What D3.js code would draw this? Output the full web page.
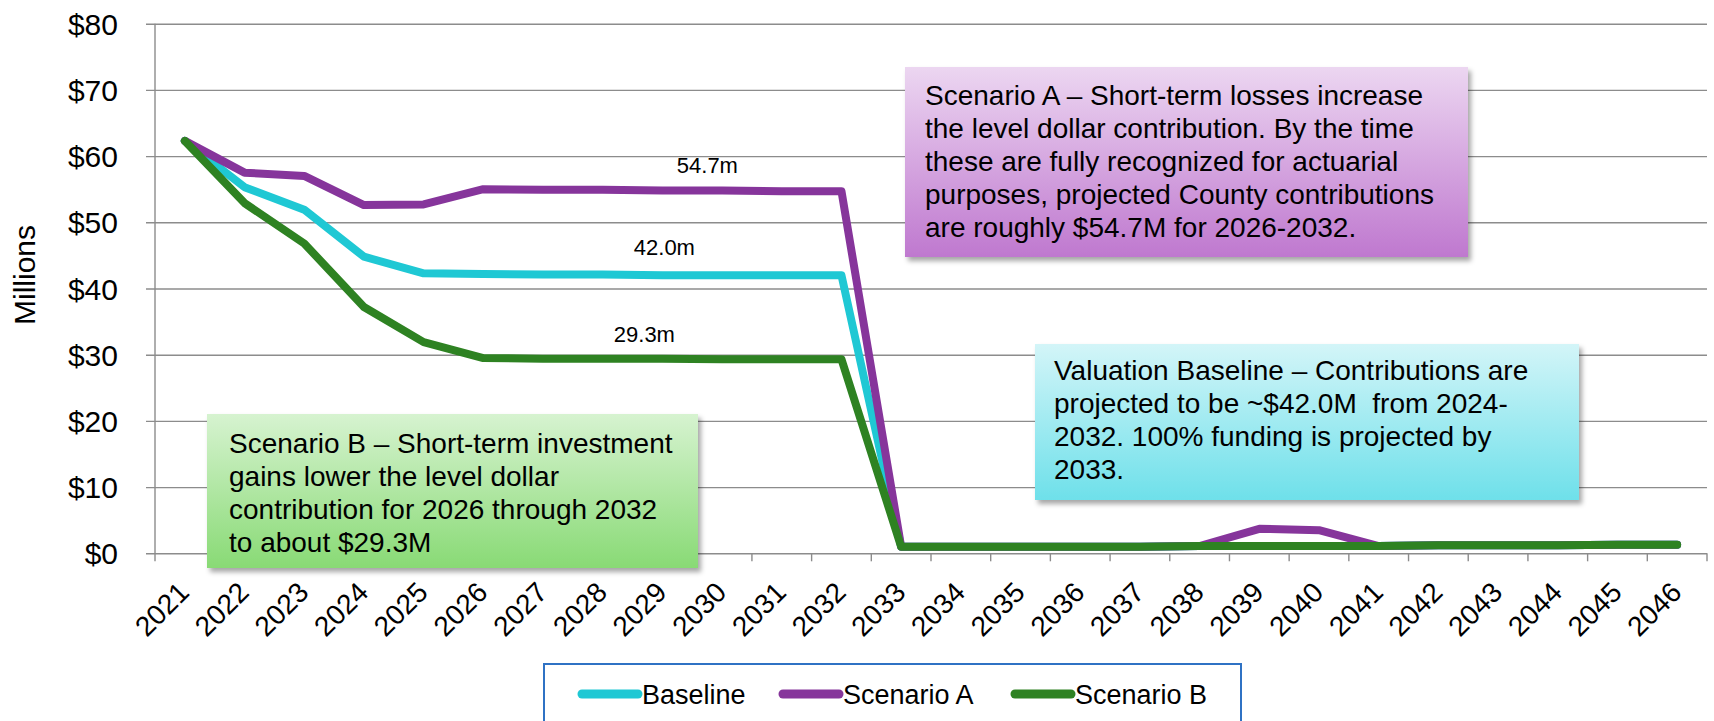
<!DOCTYPE html>
<html>
<head>
<meta charset="utf-8">
<script src="https://d3js.org/d3.v7.min.js"></script>
<style>
body {
  margin: 0;
  background: #fff;
  font-family: "Liberation Sans", Arial, Helvetica, sans-serif;
}
</style>
</head>
<body>
<div id="my_dataviz"></div>

<script>

// ---- data ----
var years = ["2021","2022","2023","2024","2025","2026","2027","2028","2029","2030","2031","2032","2033",
             "2034","2035","2036","2037","2038","2039","2040","2041","2042","2043","2044","2045","2046"];

var baseline  = [62.3, 55.3, 51.9, 44.8, 42.3, 42.2, 42.1, 42.1, 42.0, 42.0, 42.0, 42.0, 1.0,
                 1.0, 1.0, 1.0, 1.0, 1.1, 1.1, 1.1, 1.1, 1.2, 1.2, 1.2, 1.3, 1.3];
var scenarioA = [62.3, 57.5, 57.0, 52.6, 52.7, 55.0, 54.9, 54.9, 54.8, 54.8, 54.7, 54.7, 1.0,
                 1.0, 1.0, 1.0, 1.0, 1.1, 3.7, 3.5, 1.1, 1.2, 1.2, 1.2, 1.3, 1.3];
var scenarioB = [62.3, 52.9, 46.8, 37.2, 31.9, 29.5, 29.4, 29.4, 29.4, 29.3, 29.3, 29.3, 1.0,
                 1.0, 1.0, 1.0, 1.0, 1.1, 1.1, 1.1, 1.1, 1.2, 1.2, 1.2, 1.3, 1.3];

var seriesNames = ["Baseline", "Scenario A", "Scenario B"];
var yTicks = [0, 10, 20, 30, 40, 50, 60, 70, 80];

var valueLabels = ["42.0m", "54.7m", "29.3m"];

var noteA = ["Scenario A \u2013 Short-term losses increase",
             "the level dollar contribution. By the time",
             "these are fully recognized for actuarial",
             "purposes, projected County contributions",
             "are roughly $54.7M for 2026-2032."];
var noteBase = ["Valuation Baseline \u2013 Contributions are",
                "projected to be ~$42.0M\u00a0 from 2024-",
                "2032. 100% funding is projected by",
                "2033."];
var noteB = ["Scenario B \u2013 Short-term investment",
             "gains lower the level dollar",
             "contribution for 2026 through 2032",
             "to about $29.3M"];

// ---- layout ----
var W = 1714, H = 721;
var plot = {left: 155, right: 1707, top: 23.7, bottom: 553.3};
var colors = ["#1fc8d4", "#86359b", "#2e8222"];
var gridColor = "#8c8c8c";

var svg = d3.select("#my_dataviz")
  .append("svg")
    .attr("width", W)
    .attr("height", H)
    .style("display", "block");

var defs = svg.append("defs");

// drop shadow for the note boxes
var f = defs.append("filter").attr("id", "shadow")
  .attr("x", "-5%").attr("y", "-5%").attr("width", "115%").attr("height", "120%");
f.append("feDropShadow")
  .attr("dx", 3).attr("dy", 4).attr("stdDeviation", 2.5)
  .attr("flood-color", "#000").attr("flood-opacity", 0.35);

function grad(id, top, bottom) {
  var g = defs.append("linearGradient").attr("id", id)
    .attr("x1", 0).attr("y1", 0).attr("x2", 0).attr("y2", 1);
  g.append("stop").attr("offset", "0%").attr("stop-color", top);
  g.append("stop").attr("offset", "100%").attr("stop-color", bottom);
}
grad("gradA", "#ecd6f1", "#bf78cf");
grad("gradBase", "#d3f5f8", "#6ee0ea");
grad("gradB", "#d6f3d0", "#89da75");

// scales
var x = d3.scaleBand()
  .domain(years)
  .range([plot.left, plot.right])
  .padding(0);
var y = d3.scaleLinear()
  .domain([0, 80])
  .range([plot.bottom, plot.top]);

function cx(i) { return x(years[i]) + x.bandwidth() / 2; }

// gridlines + y axis
svg.append("g")
  .attr("transform", "translate(" + plot.left + ",0)")
  .call(d3.axisLeft(y).tickValues(yTicks)
    .tickSize(-(plot.right - plot.left))
    .tickFormat(function(d) { return "$" + d; }))
  .call(function(g) {
    g.select(".domain").remove();
    g.selectAll(".tick line").attr("stroke", gridColor).attr("stroke-width", 1.4)
      .attr("x1", -9);
    g.selectAll(".tick text")
      .attr("x", -37)
      .attr("dy", "0.35em")
      .style("font-family", "'Liberation Sans', Arial, sans-serif")
      .style("font-size", "30px")
      .attr("fill", "#000");
  });

// y axis line
svg.append("line")
  .attr("x1", plot.left).attr("x2", plot.left)
  .attr("y1", plot.top).attr("y2", plot.bottom)
  .attr("stroke", gridColor).attr("stroke-width", 1.4);

// x axis with ticks at the category edges
var xTickPos = years.map(function(d) { return x(d); }).concat([plot.right]);
svg.append("g").selectAll("line")
  .data(xTickPos)
  .enter().append("line")
    .attr("x1", function(d) { return d; })
    .attr("x2", function(d) { return d; })
    .attr("y1", plot.bottom)
    .attr("y2", plot.bottom + 8)
    .attr("stroke", gridColor).attr("stroke-width", 1.4);

svg.append("g").selectAll("text")
  .data(years)
  .enter().append("text")
    .attr("transform", function(d, i) {
      return "translate(" + (cx(i) + 6) + "," + 594 + ") rotate(-45)";
    })
    .style("text-anchor", "end")
    .style("font-size", "28px")
    .text(function(d) { return d; });

// y axis title
svg.append("text")
  .attr("transform", "translate(35," + 275 + ") rotate(-90)")
  .style("text-anchor", "middle")
  .style("font-size", "30px")
  .text("Millions");

// lines
var allSeries = [baseline, scenarioA, scenarioB];
var line = d3.line()
  .x(function(d, i) { return cx(i); })
  .y(function(d) { return y(d); });

svg.append("g").selectAll("path")
  .data(allSeries)
  .enter().append("path")
    .attr("d", line)
    .attr("fill", "none")
    .attr("stroke", function(d, i) { return colors[i]; })
    .attr("stroke-width", 8)
    .attr("stroke-linejoin", "round")
    .attr("stroke-linecap", "round");

// level labels over the flat parts
svg.append("text")
  .attr("x", cx(8) + 2).attr("y", y(baseline[8]) - 20)
  .style("text-anchor", "middle").style("font-size", "22px")
  .text(valueLabels[0]);
svg.append("text")
  .attr("x", cx(8) + 45).attr("y", y(scenarioA[8]) - 18)
  .style("text-anchor", "middle").style("font-size", "22px")
  .text(valueLabels[1]);
svg.append("text")
  .attr("x", cx(8) - 18).attr("y", y(scenarioB[8]) - 17)
  .style("text-anchor", "middle").style("font-size", "22px")
  .text(valueLabels[2]);

// note boxes
function note(bx, by, bw, bh, fill, lines, tx, ty) {
  var g = svg.append("g");
  g.append("rect")
    .attr("x", bx).attr("y", by).attr("width", bw).attr("height", bh)
    .attr("fill", "url(#" + fill + ")")
    .attr("filter", "url(#shadow)");
  g.selectAll("text")
    .data(lines)
    .enter().append("text")
      .attr("x", tx)
      .attr("y", function(d, i) { return ty + i * 33; })
      .style("font-size", "28px")
      .style("white-space", "pre")
      .text(function(d) { return d; });
}
note(905, 67, 563, 190, "gradA", noteA, 925, 105);
note(1035, 344, 544, 156, "gradBase", noteBase, 1054, 380);
note(207, 414, 491, 154, "gradB", noteB, 229, 453);

// legend
svg.append("rect")
  .attr("x", 544).attr("y", 664)
  .attr("width", 697).attr("height", 70)
  .attr("fill", "#fff")
  .attr("stroke", "#2f72c4")
  .attr("stroke-width", 2);

var legendX = [582, 783, 1015];
var leg = svg.append("g").selectAll("g")
  .data(seriesNames)
  .enter().append("g")
    .attr("transform", function(d, i) { return "translate(" + legendX[i] + ",694)"; });
leg.append("line")
  .attr("x1", 0).attr("x2", 56)
  .attr("stroke", function(d, i) { return colors[i]; })
  .attr("stroke-width", 9)
  .attr("stroke-linecap", "round");
leg.append("text")
  .attr("x", 60).attr("y", 10)
  .style("font-size", "27px")
  .text(function(d) { return d; });

</script>
</body>
</html>
